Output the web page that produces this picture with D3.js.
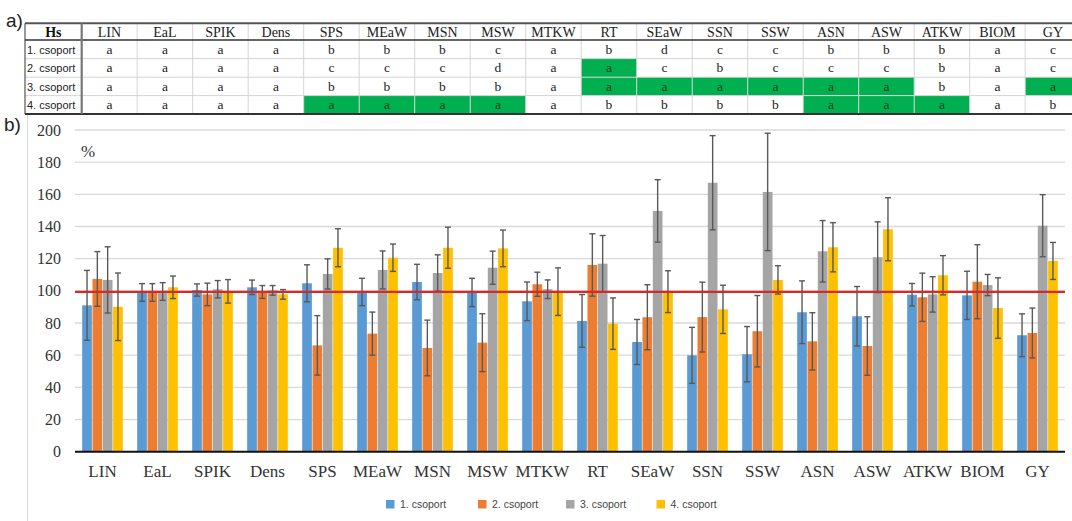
<!DOCTYPE html>
<html>
<head>
<meta charset="utf-8">
<script src="https://cdn.jsdelivr.net/npm/d3@7"></script>
<style>
  html, body { margin: 0; padding: 0; background: #fff; }
  svg { display: block; }
</style>
</head>
<body>
<svg id="chart" width="1072" height="521"></svg>
<script>
// ---------------- DATA ----------------
const categories = ["LIN","EaL","SPIK","Dens","SPS","MEaW","MSN","MSW","MTKW","RT","SEaW","SSN","SSW","ASN","ASW","ATKW","BIOM","GY"];
const seriesNames = ["1. csoport","2. csoport","3. csoport","4. csoport"];
const seriesColors = ["#5b9bd5","#ed7d31","#a5a5a5","#ffc000"];

const group1 = [91, 99, 100.5, 102.2, 104.7, 99.3, 105.5, 99, 93.5, 81.3, 68.2, 59.9, 60.6, 86.7, 84.2, 97.6, 97.2, 72.4];
const group2 = [107.4, 99, 97.8, 99.3, 66.1, 73.4, 64.5, 67.8, 104.1, 116.1, 83.6, 83.7, 74.9, 68.6, 65.7, 96, 105.7, 73.8];
const group3 = [106.8, 99.6, 101, 100.3, 110.5, 113, 111.1, 114.4, 101, 116.9, 149.7, 167.2, 161.5, 124.6, 120.9, 97.8, 103.6, 140.5];
const group4 = [90.1, 102.2, 99.7, 97.8, 126.8, 120.6, 126.8, 126.4, 99.5, 79.6, 99.5, 88.5, 106.8, 127.1, 138.3, 109.7, 89.3, 118.6];

const err1 = [21.7, 5.5, 3.8, 4.5, 11.5, 8.5, 11, 8.8, 12, 16.4, 14, 17.4, 17.2, 19.5, 18.5, 7, 15, 13.3];
const err2 = [17, 5.5, 7, 4, 18.5, 13.4, 17.3, 18, 7.5, 19.4, 20.2, 21.7, 22.2, 17.8, 18.2, 15, 23, 15.5];
const err3 = [20.6, 5.5, 5.4, 3, 9.4, 11.8, 11.3, 10.3, 5.8, 17.5, 19.4, 29.3, 36.5, 19.1, 22, 11, 6.6, 19.3];
const err4 = [21, 7, 7.3, 3, 11.8, 8.5, 12.8, 11.4, 14.8, 16, 13, 15, 8.8, 15.3, 19.6, 12.2, 18.8, 11.5];

const yTicks = [0,20,40,60,80,100,120,140,160,180,200];
const refLine = 99.4;

// significance table (panel a)
const tableHeader = "Hs";
const rowLabels = ["1. csoport","2. csoport","3. csoport","4. csoport"];
const letters1 = ["a","a","a","a","b","b","b","c","a","b","d","c","c","b","b","b","a","c"];
const letters2 = ["a","a","a","a","c","c","c","d","a","a","c","b","c","c","c","b","a","c"];
const letters3 = ["a","a","a","a","b","b","b","b","a","a","a","a","a","a","a","b","a","a"];
const letters4 = ["a","a","a","a","a","a","a","a","a","b","b","b","b","a","a","a","a","b"];
const highlight1 = [0,0,0,0,0,0,0,0,0,0,0,0,0,0,0,0,0,0];
const highlight2 = [0,0,0,0,0,0,0,0,0,1,0,0,0,0,0,0,0,0];
const highlight3 = [0,0,0,0,0,0,0,0,0,1,1,1,1,1,1,0,0,1];
const highlight4 = [0,0,0,0,1,1,1,1,0,0,0,0,0,1,1,1,0,0];

// ---------------- DRAW ----------------
const svg = d3.select("#chart");
svg.append("rect").attr("width",1072).attr("height",521).attr("fill","#fff");

const serif = "'Liberation Serif','Times New Roman',serif";
const sans = "'Liberation Sans',Arial,sans-serif";

// ---------- Table (a) ----------
const letters = [letters1, letters2, letters3, letters4];
const highlights = [highlight1, highlight2, highlight3, highlight4];
const tLeft = 25, hsRight = 81.7, colW = 55.5;
const rowY = [23.3, 40, 58.6, 77.2, 95.6, 114];
const tx = d3.scaleBand().domain(categories).range([hsRight, hsRight + colW*categories.length]);
const tg = svg.append("g");

// green highlights
letters.forEach((row, r) => {
  row.forEach((l, c) => {
    if (highlights[r][c]) {
      tg.append("rect").attr("x", tx(categories[c])).attr("y", rowY[r+1])
        .attr("width", tx.bandwidth()).attr("height", rowY[r+2]-rowY[r+1]).attr("fill","#00b050");
    }
  });
});
// light grid lines
categories.forEach((c,i) => {
  if (i>0) tg.append("line").attr("x1", tx(c)).attr("x2", tx(c)).attr("y1", rowY[0]).attr("y2", rowY[5])
    .attr("stroke","#d4d4d4").attr("stroke-width",1);
});
[2,3,4].forEach(k => {
  tg.append("line").attr("x1", tLeft).attr("x2", 1072).attr("y1", rowY[k]).attr("y2", rowY[k])
    .attr("stroke","#d4d4d4").attr("stroke-width",1);
});
// borders
tg.append("line").attr("x1", tLeft).attr("x2", 1072).attr("y1", rowY[0]).attr("y2", rowY[0]).attr("stroke","#555").attr("stroke-width",2);
tg.append("line").attr("x1", tLeft).attr("x2", 1072).attr("y1", rowY[1]).attr("y2", rowY[1]).attr("stroke","#333").attr("stroke-width",1.3);
tg.append("line").attr("x1", tLeft).attr("x2", 1072).attr("y1", rowY[5]).attr("y2", rowY[5]).attr("stroke","#333").attr("stroke-width",2);
tg.append("line").attr("x1", tLeft).attr("x2", tLeft).attr("y1", rowY[0]).attr("y2", rowY[5]).attr("stroke","#333").attr("stroke-width",1);
tg.append("line").attr("x1", hsRight).attr("x2", hsRight).attr("y1", rowY[0]).attr("y2", rowY[5]).attr("stroke","#777").attr("stroke-width",2.2);

// header
tg.append("text").attr("x", (tLeft+hsRight)/2).attr("y", rowY[0]+13.5).attr("text-anchor","middle")
  .attr("font-family", serif).attr("font-size",14).attr("font-weight","bold").attr("fill","#111").text(tableHeader);
tg.selectAll("text.h").data(categories).enter().append("text").attr("class","h")
  .attr("x", d => tx(d)+tx.bandwidth()/2).attr("y", rowY[0]+13.5).attr("text-anchor","middle")
  .attr("font-family", serif).attr("font-size",14).attr("fill","#222").text(d => d);
// row labels + letters
rowLabels.forEach((lab, r) => {
  const yb = rowY[r+1] + 13.5;
  tg.append("text").attr("x", tLeft+2).attr("y", yb).attr("font-family", sans).attr("font-size",11)
    .attr("fill","#222").text(lab);
  letters[r].forEach((l, c) => {
    tg.append("text").attr("x", tx(categories[c])+tx.bandwidth()/2).attr("y", yb).attr("text-anchor","middle")
      .attr("font-family", serif).attr("font-size",13.5).attr("fill", highlights[r][c] ? "#0b3d1c" : "#222").text(l);
  });
});

// panel labels
svg.append("text").attr("x", 6).attr("y", 27).attr("font-family", sans).attr("font-size",19).attr("fill","#222").text("a)");
svg.append("text").attr("x", 4).attr("y", 131).attr("font-family", sans).attr("font-size",19).attr("fill","#222").text("b)");

// chart frame left line
svg.append("line").attr("x1",27.5).attr("x2",27.5).attr("y1",115).attr("y2",521).attr("stroke","#d9d9d9").attr("stroke-width",1);

// ---------- Bar chart (b) ----------
const plotL = 75, plotR = 1065;
const y = d3.scaleLinear().domain([0,200]).range([451.7,130]);
const x0 = d3.scaleBand().domain(categories).range([plotL, plotR]).paddingInner(0.25).paddingOuter(0.125);
const x1 = d3.scaleBand().domain(seriesNames).range([0, x0.bandwidth()]);

// gridlines
svg.append("g").selectAll("line").data(yTicks.filter(t => t>0)).enter().append("line")
  .attr("x1", plotL).attr("x2", plotR).attr("y1", d => y(d)).attr("y2", d => y(d))
  .attr("stroke","#d9d9d9").attr("stroke-width",1.3);

// y axis labels
const yAxis = d3.axisLeft(y).tickValues(yTicks).tickSize(0).tickPadding(0);
const yg = svg.append("g").attr("transform", `translate(61,0)`).call(yAxis);
yg.select(".domain").remove();
yg.selectAll("text").attr("font-family", serif).attr("font-size",16).attr("fill","#333");

// "%"
svg.append("text").attr("x", 81).attr("y", 157).attr("font-family", serif).attr("font-size",17).attr("fill","#333").text("%");

const values = [group1, group2, group3, group4];
const errs = [err1, err2, err3, err4];
const data = categories.map((c, i) => ({
  cat: c,
  items: seriesNames.map((s, k) => ({ s, k, v: values[k][i], e: errs[k][i] }))
}));

const groups = svg.append("g").selectAll("g").data(data).enter().append("g")
  .attr("transform", d => `translate(${x0(d.cat)},0)`);
groups.selectAll("rect").data(d => d.items).enter().append("rect")
  .attr("x", d => x1(d.s) + 0.3).attr("width", x1.bandwidth() - 0.6)
  .attr("y", d => y(d.v)).attr("height", d => y(0) - y(d.v))
  .attr("fill", d => seriesColors[d.k]);

// error bars
const eb = groups.selectAll("g.eb").data(d => d.items).enter().append("g").attr("class","eb")
  .attr("transform", d => `translate(${x1(d.s) + x1.bandwidth()/2},0)`);
eb.append("line").attr("x1",0).attr("x2",0).attr("y1", d => y(d.v + d.e)).attr("y2", d => y(d.v - d.e))
  .attr("stroke","#595959").attr("stroke-width",1.4);
eb.append("line").attr("x1",-3).attr("x2",3).attr("y1", d => y(d.v + d.e)).attr("y2", d => y(d.v + d.e))
  .attr("stroke","#595959").attr("stroke-width",1.4);
eb.append("line").attr("x1",-3).attr("x2",3).attr("y1", d => y(d.v - d.e)).attr("y2", d => y(d.v - d.e))
  .attr("stroke","#595959").attr("stroke-width",1.4);

// reference line
svg.append("line").attr("x1", plotL).attr("x2", plotR).attr("y1", y(refLine)).attr("y2", y(refLine))
  .attr("stroke","#d42a2a").attr("stroke-width",2.2);

// x axis
const xAxis = d3.axisBottom(x0).tickSize(0).tickPadding(0);
const xg = svg.append("g").attr("transform", `translate(0,${y(0)})`).call(xAxis);
xg.select(".domain").remove();
xg.selectAll("text").attr("font-family", serif).attr("font-size",17).attr("fill","#333")
  .attr("dy", null).attr("y", 25);
svg.append("line").attr("x1", plotL).attr("x2", plotR).attr("y1", y(0)).attr("y2", y(0))
  .attr("stroke","#111").attr("stroke-width",2);

// legend
const legendX = [386, 478, 566, 656.5];
const lg = svg.append("g").selectAll("g").data(seriesNames).enter().append("g")
  .attr("transform", (d,i) => `translate(${legendX[i]},500)`);
lg.append("rect").attr("width",8.5).attr("height",8.5).attr("fill", (d,i) => seriesColors[i]);
lg.append("text").attr("x", 14).attr("y", 8.3).attr("font-family", sans).attr("font-size",10.5)
  .attr("fill","#444").text(d => d);
</script>
</body>
</html>
